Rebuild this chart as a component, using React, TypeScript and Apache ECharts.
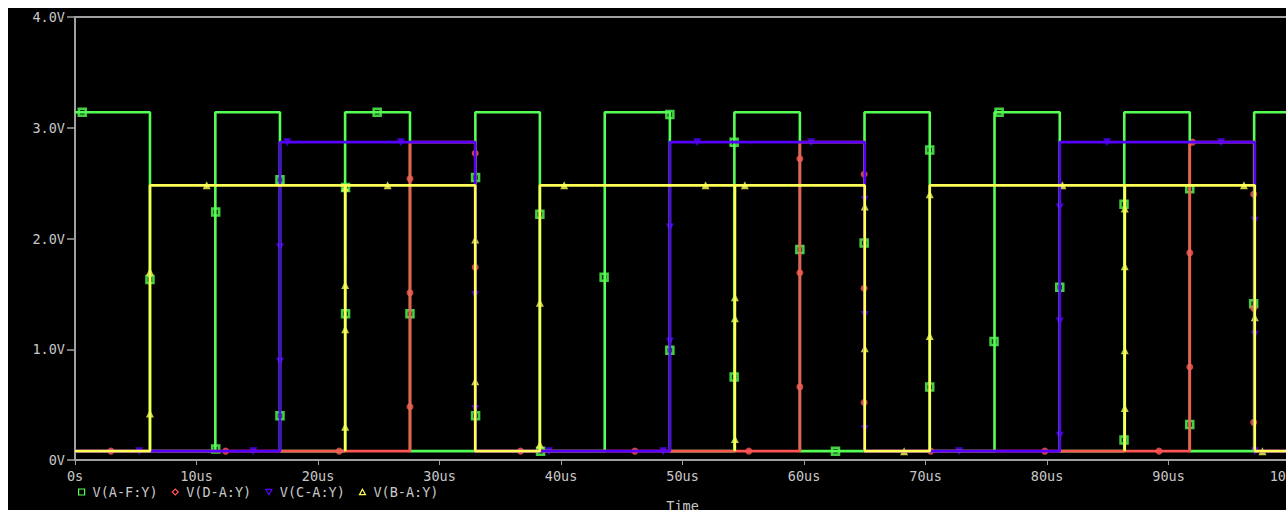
import React, { useEffect, useRef } from "react";
import * as echarts from "echarts";

// ---- data ----
const LO = 0.08;
const G_HI = 3.14;
const R_HI = 2.87;
const P_HI = 2.87;
const Y_HI = 2.48;
const T_END = 100;

const xTickLabels = ["0s", "10us", "20us", "30us", "40us", "50us", "60us", "70us", "80us", "90us", "100us"];
const yTickLabels = ["0V", "1.0V", "2.0V", "3.0V", "4.0V"];

// [time (us), new level] step events
const greenSteps: number[][] = [
  [0, G_HI], [6.17, LO], [11.55, G_HI], [16.87, LO], [22.23, G_HI], [27.57, LO], [32.95, G_HI],
  [38.26, LO], [43.6, G_HI], [48.96, LO], [54.27, G_HI], [59.66, LO], [64.98, G_HI], [70.35, LO],
  [75.68, G_HI], [81.05, LO], [86.36, G_HI], [91.75, LO], [97.05, G_HI],
];
const redSteps: number[][] = [
  [0, LO], [27.57, R_HI], [32.94, LO], [59.66, R_HI], [65.0, LO], [91.75, R_HI], [97.1, LO],
];
const purpleSteps: number[][] = [
  [0, LO], [16.87, P_HI], [32.94, LO], [48.96, P_HI], [65.0, LO], [81.05, P_HI], [97.1, LO],
];
const yellowSteps: number[][] = [
  [0, LO], [6.17, Y_HI], [22.24, LO], [22.25, Y_HI], [32.94, LO], [38.26, Y_HI], [54.31, LO],
  [54.32, Y_HI], [65.0, LO], [70.35, Y_HI], [86.4, LO], [86.41, Y_HI], [97.1, LO],
];

const greenMarks: number[][] = [
  [0.6, 3.14], [6.17, 1.63], [11.58, 2.24], [11.58, 0.1], [16.87, 2.53], [16.87, 0.4],
  [22.27, 2.46], [22.27, 1.32], [24.87, 3.14], [27.57, 1.32], [32.97, 2.55], [32.97, 0.4],
  [38.26, 2.22], [38.32, 0.08], [43.55, 1.65], [48.96, 3.12], [48.96, 0.99], [54.25, 2.87],
  [54.25, 0.75], [59.66, 1.9], [62.59, 0.08], [64.95, 1.96], [70.35, 2.8], [70.35, 0.66],
  [75.64, 1.07], [76.06, 3.14], [81.05, 1.56], [86.34, 2.31], [86.34, 0.18], [91.75, 2.45],
  [91.75, 0.32], [97.01, 1.41],
];
const redMarks: number[][] = [
  [2.96, 0.08], [12.4, 0.08], [21.75, 0.08], [27.57, 2.54], [27.57, 1.51], [27.57, 0.48],
  [32.94, 2.77], [32.94, 1.74], [36.67, 0.08], [46.08, 0.08], [55.46, 0.08], [59.66, 2.72],
  [59.66, 1.69], [59.66, 0.66], [64.95, 2.58], [64.95, 1.55], [64.95, 0.52], [70.43, 0.08],
  [79.82, 0.08], [89.22, 0.08], [91.97, 2.87], [91.75, 1.87], [91.75, 0.84], [97.01, 2.4],
  [97.01, 1.37], [97.01, 0.34],
];
const purpleMarks: number[][] = [
  [5.29, 0.08], [14.67, 0.08], [16.87, 1.92], [16.87, 0.89], [17.47, 2.87], [26.82, 2.87],
  [32.94, 1.49], [32.94, 0.46], [39.0, 0.08], [48.41, 0.08], [48.96, 2.1], [48.96, 1.07],
  [51.21, 2.87], [60.59, 2.87], [65.0, 2.35], [65.0, 1.31], [65.0, 0.28], [72.76, 0.08],
  [81.05, 2.28], [81.05, 1.25], [81.05, 0.22], [84.94, 2.87], [94.32, 2.87], [97.1, 2.16],
  [97.1, 1.13], [97.1, 0.08],
];
const yellowMarks: number[][] = [
  [6.17, 1.7], [6.17, 0.42], [10.84, 2.48], [22.24, 2.46], [22.24, 1.58], [22.24, 1.18],
  [22.24, 0.3], [25.73, 2.48], [32.94, 1.99], [32.94, 0.71], [38.26, 1.42], [38.26, 0.14],
  [40.26, 2.48], [51.9, 2.48], [54.31, 1.47], [54.31, 1.28], [54.31, 0.19], [55.13, 2.48],
  [65.0, 2.29], [65.0, 1.01], [68.24, 0.08], [70.35, 2.4], [70.35, 1.12], [81.27, 2.48],
  [86.4, 2.27], [86.4, 1.75], [86.4, 0.99], [86.4, 0.47], [96.21, 2.48], [97.1, 1.29],
  [97.73, 0.08],
];

const names = ["V(A-F:Y)", "V(D-A:Y)", "V(C-A:Y)", "V(B-A:Y)"];
const colors = ["#55ff55", "#ff5555", "#5500ff", "#ffff55"];

function buildSteps(steps: number[][]): number[][] {
  const out: number[][] = [];
  steps.forEach(([t, v], i) => {
    if (i > 0) out.push([t, steps[i - 1][1]]);
    out.push([t, v]);
  });
  out.push([T_END, steps[steps.length - 1][1]]);
  return out;
}

const FONT = "DejaVu Sans Mono";
const AXIS_GREY = "#a0a0a0";
const TEXT_GREY = "#c8c8c8";

export default function App() {
  const ref = useRef<HTMLDivElement>(null);
  useEffect(() => {
    if (!ref.current) return;
    const chart = echarts.init(ref.current, undefined, { renderer: "svg" });
    const stepSets = [greenSteps, redSteps, purpleSteps, yellowSteps];
    const markSets = [greenMarks, redMarks, purpleMarks, yellowMarks];
    const markerDefs = [
      { symbol: "rect", size: 7, rotate: 0, style: { color: "#0a3a0a", borderColor: colors[0], borderWidth: 2.5 } },
      { symbol: "circle", size: 7, rotate: 0, style: { color: colors[1] } },
      { symbol: "triangle", size: 8, rotate: 180, style: { color: colors[2] } },
      { symbol: "triangle", size: 8, rotate: 0, style: { color: colors[3] } },
    ];
    const series: any[] = [];
    names.forEach((name, i) => {
      series.push({
        type: "line",
        name,
        data: buildSteps(stepSets[i]),
        showSymbol: false,
        symbol: "none",
        silent: true,
        lineStyle: { color: colors[i], width: 2.6 },
        itemStyle: { color: colors[i] },
      });
      series.push({
        type: "scatter",
        name,
        data: markSets[i],
        symbol: markerDefs[i].symbol,
        symbolSize: markerDefs[i].size,
        symbolRotate: markerDefs[i].rotate,
        silent: true,
        itemStyle: markerDefs[i].style,
      });
    });
    const legendIcons = ["rect", "diamond", "path://M0,0L10,0L5,9Z", "path://M5,0L10,9L0,9Z"];
    chart.setOption({
      animation: false,
      backgroundColor: "#000",
      grid: {
        left: 67,
        top: 9,
        right: -4,
        bottom: 50,
        outerBoundsMode: "none",
        containLabel: false,
        show: true,
        borderColor: AXIS_GREY,
        borderWidth: 2,
        backgroundColor: "transparent",
      },
      legend: {
        left: 70,
        top: 477,
        padding: 0,
        selectedMode: false,
        itemWidth: 6,
        itemHeight: 6,
        itemGap: 14,
        textStyle: { color: TEXT_GREY, fontFamily: FONT, fontSize: 13.5, padding: [0, 0, 0, 3] },
        data: names.map((name, i) => ({
          name,
          icon: legendIcons[i],
          itemStyle: { color: "#000", borderColor: colors[i], borderWidth: 1.2 },
        })),
      },
      xAxis: {
        type: "value",
        min: 0,
        max: 100,
        interval: 10,
        name: "Time",
        nameLocation: "middle",
        nameGap: 39,
        nameTextStyle: { color: TEXT_GREY, fontFamily: FONT, fontSize: 13.5 },
        axisLine: { lineStyle: { color: AXIS_GREY, width: 2 } },
        axisTick: { length: 5, lineStyle: { color: AXIS_GREY, width: 1 } },
        splitLine: { show: false },
        axisLabel: {
          color: TEXT_GREY,
          fontFamily: FONT,
          fontSize: 13.5,
          margin: 9,
          formatter: (v: number) => xTickLabels[Math.round(v / 10)] ?? "",
        },
      },
      yAxis: {
        type: "value",
        min: 0,
        max: 4,
        interval: 1,
        axisLine: { show: true, lineStyle: { color: AXIS_GREY, width: 2 } },
        axisTick: { show: true, length: 8, lineStyle: { color: AXIS_GREY, width: 1.5 } },
        splitLine: { show: false },
        axisLabel: {
          color: TEXT_GREY,
          fontFamily: FONT,
          fontSize: 13.5,
          margin: 10,
          formatter: (v: number) => yTickLabels[Math.round(v)] ?? "",
        },
      },
      series,
    });
    return () => chart.dispose();
  }, []);
  return (
    <div
      ref={ref}
      style={{ position: "absolute", left: 8, top: 8, width: 1278, height: 502, background: "#000" }}
    />
  );
}
